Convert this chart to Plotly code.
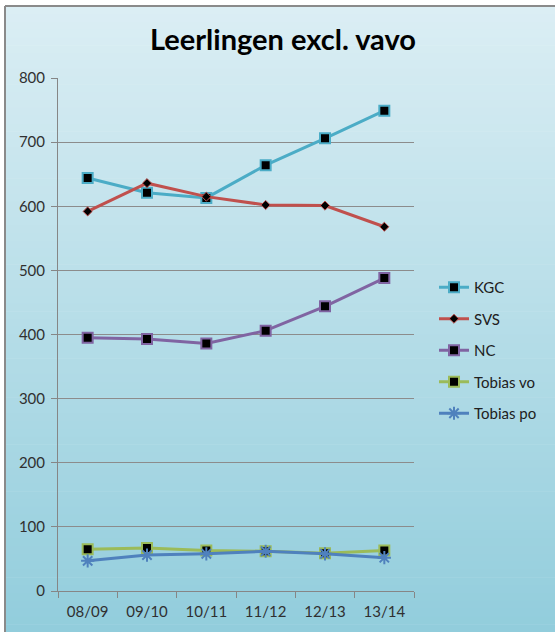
import plotly.graph_objects as go

years = ["08/09", "09/10", "10/11", "11/12", "12/13", "13/14"]
kgc = [644, 621, 613, 664, 706, 749]
svs = [592, 636, 615, 602, 601, 568]
nc = [395, 393, 386, 406, 444, 488]
tobias_vo = [65, 67, 63, 62, 59, 63]
tobias_po = [47, 56, 58, 62, 58, 52]
y_ticks = [0, 100, 200, 300, 400, 500, 600, 700, 800]

W, H = 555, 632
L, R, T, B = 58, 414, 78, 591
pw, ph = R - L, B - T

def px(x):
    return (x - L) / pw

def py(y):
    return (B - y) / ph

fig = go.Figure()

series = [
    ("KGC", kgc, "#4bacc6", dict(symbol="square", size=10, color="black", line=dict(color="#4bacc6", width=2))),
    ("SVS", svs, "#c0504d", dict(symbol="diamond", size=7, color="black", line=dict(color="#c0504d", width=1))),
    ("NC", nc, "#8064a2", dict(symbol="square", size=10, color="black", line=dict(color="#8064a2", width=2))),
    ("Tobias vo", tobias_vo, "#9bbb59", dict(symbol="square", size=10, color="black", line=dict(color="#9bbb59", width=2))),
    ("Tobias po", tobias_po, "#4f81bd", dict(symbol="asterisk-open", size=11, color="#4f81bd", line=dict(color="#4f81bd", width=2))),
]
for i, (name, vals, col, mk) in enumerate(series):
    fig.add_trace(go.Scatter(x=years, y=vals, name=name, mode="lines+markers",
                             line=dict(color=col, width=3), marker=mk,
                             legendgroup=f"g{i}"))

# gradient background
shapes = []
top_c = (0xdb, 0xee, 0xf4)
bot_c = (0x92, 0xcd, 0xdc)
y0p, y1p = 6, 632
n = 80
for k in range(n):
    ya = y0p + (y1p - y0p) * k / n
    yb = y0p + (y1p - y0p) * (k + 1) / n + 0.6
    t = (k + 0.5) / n
    c = tuple(round(top_c[j] + (bot_c[j] - top_c[j]) * t) for j in range(3))
    shapes.append(dict(type="rect", xref="paper", yref="paper", layer="below",
                       x0=px(5), x1=px(W + 2), y0=py(yb), y1=py(ya),
                       fillcolor="rgb(%d,%d,%d)" % c, line=dict(width=0)))
shapes.append(dict(type="line", xref="paper", yref="paper", x0=px(5), x1=px(W + 2),
                   y0=py(6), y1=py(6), line=dict(color="#8a8a8a", width=2), layer="below"))
shapes.append(dict(type="line", xref="paper", yref="paper", x0=px(5), x1=px(5),
                   y0=py(6), y1=py(H + 2), line=dict(color="#8a8a8a", width=2), layer="below"))

fig.update_layout(
    width=W, height=H,
    margin=dict(l=L, r=W - R, t=T, b=H - B),
    paper_bgcolor="white",
    plot_bgcolor="rgba(0,0,0,0)",
    shapes=shapes,
    font=dict(family="Lato, sans-serif", size=15, color="#404040"),
    title=dict(text="<b>Leerlingen excl. vavo</b>", x=283 / W, xanchor="center",
               y=1 - 40 / H, yanchor="middle",
               font=dict(family="Lato, sans-serif", size=29, color="black")),
    legend=dict(x=px(434), y=py(271), xanchor="left", yanchor="top",
                bgcolor="rgba(0,0,0,0)", font=dict(size=15, color="#202020"),
                traceorder="grouped", tracegroupgap=9, itemwidth=30),
    showlegend=True,
)
fig.update_xaxes(type="category", range=[-0.5, 5.5], showgrid=False,
                 showline=True, linecolor="#868686", linewidth=1,
                 ticks="outside", tickson="boundaries", ticklen=6, tickcolor="#868686",
                 tickfont=dict(size=15, color="#303030"), ticklabelstandoff=7,
                 fixedrange=True)
fig.update_yaxes(range=[0, 800], tickvals=y_ticks, showgrid=True, gridcolor="#8c8c8c",
                 gridwidth=1, showline=True, linecolor="#868686", linewidth=1,
                 ticks="outside", ticklen=6, tickcolor="#868686", zeroline=False,
                 tickfont=dict(size=15, color="#303030"), ticklabelstandoff=3,
                 fixedrange=True)

fig.write_html("out.html", config={"displayModeBar": False},
               post_script="document.body.style.margin='0';document.body.style.overflow='hidden';")
